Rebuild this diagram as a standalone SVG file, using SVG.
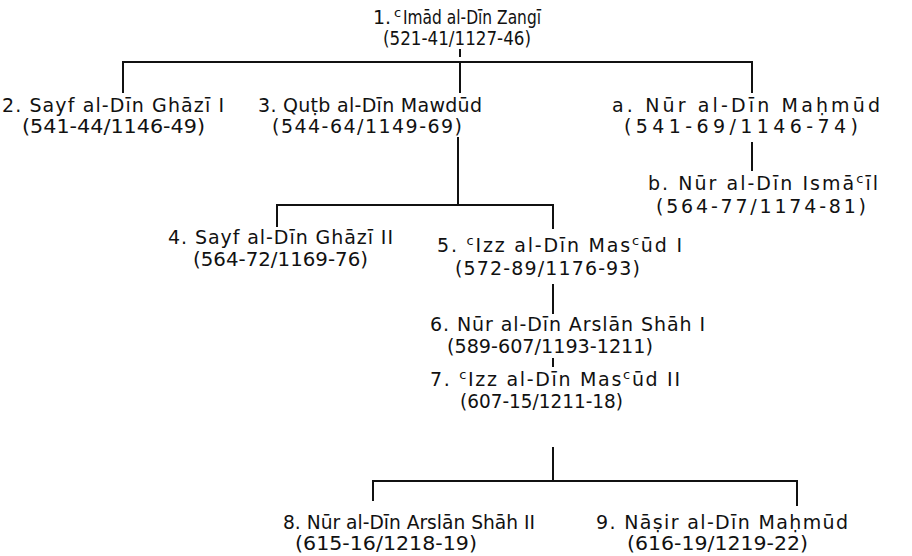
<svg xmlns="http://www.w3.org/2000/svg" width="912" height="556" viewBox="0 0 912 556">
  <style>
    .t { font-family: "DejaVu Sans", "Liberation Sans", sans-serif; font-size: 19px; fill: #111; }
    .sup { font-size: 13px; }
    .ln { stroke: #111; stroke-width: 2; fill: none; stroke-linecap: square; }
  </style>
  <rect width="912" height="556" fill="#fff"/>

  <!-- connectors -->
  <g id="connectors" class="ln">
    <path d="M460 50 V56"/>
    <path d="M123 62 H752 M123 62 V92 M460 62 V92 M752 62 V92"/>
    <path d="M752 143 V170"/>
    <path d="M458 138 V205 M277 205 H553 M277 205 V226 M553 205 V228"/>
    <path d="M553 285 V313"/>
    <path d="M553 359 V366"/>
    <path d="M553 448 V481 M373 481 H797 M373 481 V500 M797 481 V505"/>
  </g>

  <!-- names and reign dates; compressed lines scale their glyphs, widened lines only spread them -->
  <g id="n1">
    <text class="t" x="373" y="24">1.</text>
    <text class="t sup" x="394" y="17">c</text>
    <text class="t" x="403" y="24" textLength="138" lengthAdjust="spacingAndGlyphs">Imād al-Dīn Zangī</text>
    <text class="t" x="383" y="45" textLength="148" lengthAdjust="spacingAndGlyphs">(521-41/1127-46)</text>
  </g>
  <g id="n2">
    <text class="t" x="2" y="112" textLength="222">2. Sayf al-Dīn Ghāzī I</text>
    <text class="t" x="22" y="133" textLength="183" lengthAdjust="spacingAndGlyphs">(541-44/1146-49)</text>
  </g>
  <g id="n3">
    <text class="t" x="258" y="112" textLength="224">3. Quṭb al-Dīn Mawdūd</text>
    <text class="t" x="272" y="133" textLength="190">(544-64/1149-69)</text>
  </g>
  <g id="na">
    <text class="t" x="612" y="112" textLength="268">a. Nūr al-Dīn Maḥmūd</text>
    <text class="t" x="624" y="133" textLength="234">(541-69/1146-74)</text>
  </g>
  <g id="nb">
    <text class="t" x="648" y="190" textLength="230">b. Nūr al-Dīn Ismā<tspan class="sup" dy="-7">c</tspan><tspan dy="7">īl</tspan></text>
    <text class="t" x="656" y="213" textLength="210">(564-77/1174-81)</text>
  </g>
  <g id="n4">
    <text class="t" x="168" y="244" textLength="225">4. Sayf al-Dīn Ghāzī II</text>
    <text class="t" x="193" y="266" textLength="175" lengthAdjust="spacingAndGlyphs">(564-72/1169-76)</text>
  </g>
  <g id="n5">
    <text class="t" x="437" y="252" textLength="245">5. <tspan class="sup" dy="-7">c</tspan><tspan dy="7">Izz al-Dīn Mas</tspan><tspan class="sup" dy="-7">c</tspan><tspan dy="7">ūd I</tspan></text>
    <text class="t" x="455" y="275" textLength="185">(572-89/1176-93)</text>
  </g>
  <g id="n6">
    <text class="t" x="430" y="331" textLength="275">6. Nūr al-Dīn Arslān Shāh I</text>
    <text class="t" x="447" y="353" textLength="206" lengthAdjust="spacingAndGlyphs">(589-607/1193-1211)</text>
  </g>
  <g id="n7">
    <text class="t" x="430" y="386" textLength="250">7. <tspan class="sup" dy="-7">c</tspan><tspan dy="7">Izz al-Dīn Mas</tspan><tspan class="sup" dy="-7">c</tspan><tspan dy="7">ūd II</tspan></text>
    <text class="t" x="460" y="408" textLength="163" lengthAdjust="spacingAndGlyphs">(607-15/1211-18)</text>
  </g>
  <g id="n8">
    <text class="t" x="283" y="529" textLength="252" lengthAdjust="spacingAndGlyphs">8. Nūr al-Dīn Arslān Shāh II</text>
    <text class="t" x="295" y="550" textLength="182" lengthAdjust="spacingAndGlyphs">(615-16/1218-19)</text>
  </g>
  <g id="n9">
    <text class="t" x="596" y="529" textLength="252">9. Nāṣir al-Dīn Maḥmūd</text>
    <text class="t" x="627" y="550" textLength="181" lengthAdjust="spacingAndGlyphs">(616-19/1219-22)</text>
  </g>
</svg>
